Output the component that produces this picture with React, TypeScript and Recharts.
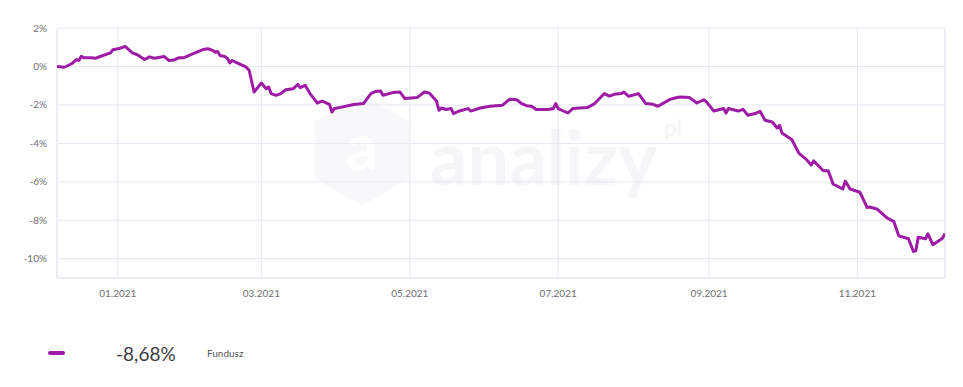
import { LineChart, Line, XAxis, YAxis, CartesianGrid, ReferenceLine } from "recharts";

// fund return since start of period, in %
const dates = [
  "2020-12-07", "2020-12-10", "2020-12-13", "2020-12-15", "2020-12-16", "2020-12-17", "2020-12-18",
  "2020-12-21", "2020-12-23", "2020-12-25", "2020-12-29", "2020-12-30", "2021-01-02", "2021-01-04",
  "2021-01-07", "2021-01-09", "2021-01-12", "2021-01-14", "2021-01-16", "2021-01-20", "2021-01-22",
  "2021-01-24", "2021-01-26", "2021-01-28", "2021-01-31", "2021-02-05", "2021-02-07", "2021-02-09",
  "2021-02-10", "2021-02-11", "2021-02-12", "2021-02-14", "2021-02-15", "2021-02-16", "2021-02-17",
  "2021-02-19", "2021-02-22", "2021-02-23", "2021-02-24", "2021-02-26", "2021-03-01", "2021-03-03",
  "2021-03-04", "2021-03-05", "2021-03-07", "2021-03-09", "2021-03-11", "2021-03-14", "2021-03-16",
  "2021-03-17", "2021-03-19", "2021-03-21", "2021-03-24", "2021-03-26", "2021-03-29", "2021-03-30",
  "2021-03-31", "2021-04-02", "2021-04-08", "2021-04-12", "2021-04-15", "2021-04-17", "2021-04-19",
  "2021-04-20", "2021-04-24", "2021-04-27", "2021-04-29", "2021-05-04", "2021-05-07", "2021-05-09",
  "2021-05-12", "2021-05-13", "2021-05-14", "2021-05-16", "2021-05-18", "2021-05-19", "2021-05-21",
  "2021-05-25", "2021-05-26", "2021-05-30", "2021-06-03", "2021-06-08", "2021-06-11", "2021-06-14",
  "2021-06-16", "2021-06-18", "2021-06-20", "2021-06-22", "2021-06-27", "2021-06-29", "2021-06-30",
  "2021-07-01", "2021-07-05", "2021-07-07", "2021-07-13", "2021-07-16", "2021-07-20", "2021-07-22",
  "2021-07-24", "2021-07-27", "2021-07-28", "2021-07-30", "2021-08-03", "2021-08-06", "2021-08-09",
  "2021-08-11", "2021-08-16", "2021-08-18", "2021-08-20", "2021-08-24", "2021-08-27", "2021-08-30",
  "2021-08-31", "2021-09-03", "2021-09-07", "2021-09-08", "2021-09-09", "2021-09-13", "2021-09-15",
  "2021-09-17", "2021-09-20", "2021-09-22", "2021-09-24", "2021-09-27", "2021-09-29", "2021-09-30",
  "2021-10-01", "2021-10-05", "2021-10-08", "2021-10-11", "2021-10-13", "2021-10-14", "2021-10-18",
  "2021-10-20", "2021-10-22", "2021-10-26", "2021-10-27", "2021-10-29", "2021-11-02", "2021-11-03",
  "2021-11-05", "2021-11-06", "2021-11-09", "2021-11-13", "2021-11-16", "2021-11-18", "2021-11-22",
  "2021-11-24", "2021-11-25", "2021-11-26", "2021-11-29", "2021-11-30", "2021-12-02", "2021-12-06",
  "2021-12-07",
];

const values = [
  0.0, -0.04, 0.14, 0.36, 0.31, 0.53, 0.45,
  0.45, 0.43, 0.53, 0.71, 0.87, 0.95, 1.04,
  0.71, 0.61, 0.36, 0.5, 0.43, 0.52, 0.31,
  0.33, 0.45, 0.45, 0.62, 0.88, 0.92, 0.84,
  0.74, 0.78, 0.57, 0.52, 0.43, 0.19, 0.31,
  0.19, 0.02, -0.07, -0.21, -1.33, -0.86, -1.16,
  -1.07, -1.41, -1.5, -1.41, -1.21, -1.16, -0.93,
  -1.1, -0.98, -1.41, -1.9, -1.8, -1.97, -2.37,
  -2.19, -2.14, -1.98, -1.93, -1.41, -1.3, -1.28,
  -1.5, -1.36, -1.33, -1.67, -1.62, -1.33, -1.38,
  -1.8, -2.28, -2.16, -2.24, -2.19, -2.45, -2.33,
  -2.19, -2.32, -2.16, -2.07, -2.02, -1.71, -1.73,
  -1.93, -2.04, -2.07, -2.24, -2.24, -2.19, -1.93,
  -2.19, -2.42, -2.19, -2.14, -1.93, -1.41, -1.54,
  -1.45, -1.41, -1.33, -1.55, -1.41, -1.93, -1.97,
  -2.07, -1.71, -1.64, -1.59, -1.62, -1.9, -1.73,
  -1.85, -2.32, -2.19, -2.42, -2.19, -2.32, -2.23,
  -2.54, -2.45, -2.33, -2.8, -2.89, -3.2, -3.06,
  -3.46, -3.8, -4.52, -4.83, -5.13, -4.91, -5.42,
  -5.42, -6.11, -6.37, -5.96, -6.37, -6.54, -6.79,
  -7.34, -7.31, -7.41, -7.86, -8.07, -8.81, -8.96,
  -9.62, -9.59, -8.88, -8.96, -8.7, -9.27, -8.93,
  -8.68,
];

const xTicks = ["2021-01-01", "2021-03-01", "2021-05-01", "2021-07-01", "2021-09-01", "2021-11-01"];
const yTicks = [2, 0, -2, -4, -6, -8, -10];
const rangeStart = "2020-12-07";
const rangeEnd = "2021-12-07";
const seriesName = "Fundusz";
const lastLabel = "-8,68%";

const LINE = "#9e1ba6";
const GRID = "#e6e8f1";
const TICK = "#6f6f76";

const toTime = (s: string) => {
  const [y, m, d] = s.split("-").map(Number);
  return Date.UTC(y, m - 1, d);
};

const data = dates.map((d, i) => ({ t: toTime(d), value: values[i] }));

const fmtMonth = (t: number) => {
  const d = new Date(t);
  return `${String(d.getUTCMonth() + 1).padStart(2, "0")}.${d.getUTCFullYear()}`;
};

function Watermark() {
  return (
    <svg width={963} height={300} style={{ position: "absolute", left: 0, top: 0 }}>
      <polygon
        points="362,100 404,124 404,176 362,200 320,176 320,124"
        fill="#f8f8fa"
        stroke="#f8f8fa"
        strokeWidth={10}
        strokeLinejoin="round"
      />
      <text x={362} y={170} textAnchor="middle" fontSize={64} fontFamily="Lato" fontWeight={700} fill="#ffffff">
        a
      </text>
      <text x={430} y={185} fontSize={74} fontFamily="Lato" fontWeight={700} fill="#f6f6f8">
        analizy
      </text>
      <text x={664} y={136} fontSize={22} fontFamily="Lato" fontWeight={700} fill="#f6f6f8">
        pl
      </text>
    </svg>
  );
}

export default function App() {
  return (
    <div style={{ position: "absolute", left: 0, top: 0, width: 963, height: 387, background: "#fff" }}>
      <Watermark />
      <div style={{ position: "absolute", left: 0, top: 0 }}>
        <LineChart width={963} height={310} data={data} margin={{ top: 28, right: 18, bottom: 2, left: 0 }}>
          <CartesianGrid stroke={GRID} strokeWidth={1} />
          <XAxis
            dataKey="t"
            type="number"
            scale="time"
            domain={[toTime(rangeStart), toTime(rangeEnd)]}
            ticks={xTicks.map(toTime)}
            tickFormatter={fmtMonth}
            height={30}
            tickLine={false}
            axisLine={{ stroke: GRID }}
            tickMargin={6}
            tick={{ fontSize: 10, fill: TICK, fontFamily: "Lato" }}
            allowDataOverflow
          />
          <YAxis
            type="number"
            domain={[-11, 2]}
            ticks={yTicks}
            tickFormatter={(v: number) => `${v}%`}
            width={57}
            tickLine={false}
            axisLine={false}
            tickMargin={4}
            tick={{ fontSize: 10, fill: TICK, fontFamily: "Lato" }}
            allowDataOverflow
          />
          <ReferenceLine x={toTime(rangeStart)} stroke={GRID} />
          <ReferenceLine x={toTime(rangeEnd)} stroke={GRID} />
          <Line
            type="linear"
            dataKey="value"
            name={seriesName}
            stroke={LINE}
            strokeWidth={3}
            dot={false}
            strokeLinejoin="round"
            isAnimationActive={false}
          />
        </LineChart>
      </div>
      <div
        style={{
          position: "absolute",
          left: 48,
          top: 342,
          height: 22,
          display: "flex",
          alignItems: "center",
          fontFamily: "Lato",
        }}
      >
        <span style={{ width: 17, height: 4, borderRadius: 2, background: LINE, display: "inline-block" }} />
        <span style={{ marginLeft: 51, fontSize: 19, color: "#3c3c42", width: 91 }}>{lastLabel}</span>
        <span style={{ fontSize: 10, color: "#55555b" }}>{seriesName}</span>
      </div>
    </div>
  );
}
